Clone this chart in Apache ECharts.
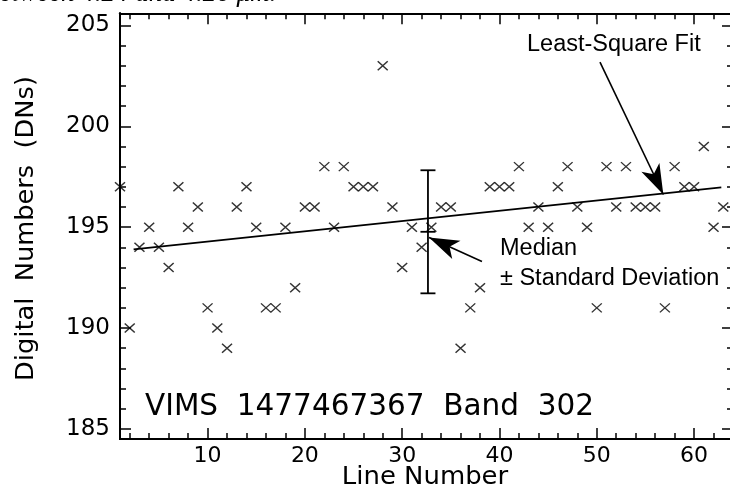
<!DOCTYPE html>
<html>
<head>
<meta charset="utf-8">
<script src="https://cdn.jsdelivr.net/npm/echarts@6/dist/echarts.min.js"></script>
<style>html,body{margin:0;padding:0;background:#fff;overflow:hidden}#c{width:730px;height:491px}</style>
</head>
<body>
<div id="c"></div>
<script>
// ---- data ----
const lineNumbers = [1,2,3,4,5,6,7,8,9,10,11,12,13,14,15,16,17,18,19,20,21,22,23,24,25,26,27,28,29,30,31,32,33,34,35,36,37,38,39,40,41,42,43,44,45,46,47,48,49,50,51,52,53,54,55,56,57,58,59,60,61,62,63];
const digitalNumbers = [197,190,194,195,194,193,197,195,196,191,190,189,196,197,195,191,191,195,192,196,196,198,195,198,197,197,197,203,196,193,195,194,195,196,196,189,191,192,197,197,197,198,195,196,195,197,198,196,195,191,198,196,198,196,196,196,191,198,197,197,199,195,196];
const fitX = [2.4, 62.8];
const fitY = [193.9, 196.97];
const errX = [32.65];
const errMid = [194.77];
const errLow = [191.72];
const errHigh = [197.82];
const xMajorTicks = [10,20,30,40,50,60];
const xMinorTicks = [2,4,6,8,12,14,16,18,22,24,26,28,32,34,36,38,42,44,46,48,52,54,56,58,62,64];
const yMajorTicks = [185,190,195,200,205];
const yMinorTicks = [186,187,188,189,191,192,193,194,196,197,198,199,201,202,203,204];
const fitArrow = [[50.33, 203.18],[56.84, 196.62]];
const medianArrow = [[38.2, 193.3],[32.76, 194.49]];

const X_MIN = 1, X_MAX = 64, Y_MIN = 184.5, Y_MAX = 205.6;
const FONT = 'DejaVu Sans';

const chart = echarts.init(document.getElementById('c'), null, {renderer:'canvas'});

function xAx(pos, ticks, len, label){
  return {
    type:'value', position:pos, min:X_MIN, max:X_MAX, gridIndex:0,
    axisLine:{show:true, onZero:false, lineStyle:{color:'#000', width:2}},
    axisTick:{show:true, inside:true, length:len, customValues:ticks, lineStyle:{color:'#000', width:1.5}},
    axisLabel:{show:label, customValues:ticks, color:'#000', fontFamily:FONT, fontSize:22, margin:6},
    splitLine:{show:false}, minorTick:{show:false}
  };
}
function yAx(pos, ticks, len, label){
  return {
    type:'value', position:pos, min:Y_MIN, max:Y_MAX, gridIndex:0,
    axisLine:{show:true, onZero:false, lineStyle:{color:'#000', width:2}},
    axisTick:{show:true, inside:true, length:len, customValues:ticks, lineStyle:{color:'#000', width:1.5}},
    axisLabel:{show:label, customValues:ticks, color:'#000', fontFamily:FONT, fontSize:23, margin:10},
    splitLine:{show:false}, minorTick:{show:false}
  };
}

const arrowLine = (pts) => ({
  silent:true, animation:false,
  symbol:['none','arrow'], symbolSize:[15,30],
  label:{show:false},
  lineStyle:{color:'#000', width:1.6, type:'solid'},
  itemStyle:{color:'#000'},
  emphasis:{disabled:true},
  data:[[{coord:pts[0]},{coord:pts[1]}]]
});

const option = {
  backgroundColor:'#fff',
  animation:false,
  grid:{left:120, top:13.3, width:613, height:425.7, containLabel:false, outerBoundsMode:'none'},
  xAxis:[
    xAx('bottom', xMajorTicks, 11, true),
    xAx('bottom', xMinorTicks, 6, false),
    xAx('top', xMajorTicks, 11, false),
    xAx('top', xMinorTicks, 6, false)
  ],
  yAxis:[
    yAx('left', yMajorTicks, 11, true),
    yAx('left', yMinorTicks, 6, false),
    yAx('right', yMajorTicks, 11, false),
    yAx('right', yMinorTicks, 6, false)
  ],
  series:[
    {
      type:'scatter', xAxisIndex:0, yAxisIndex:0,
      data: lineNumbers.map((n,i)=>[n, digitalNumbers[i]]),
      symbol:'path://M0,0L10,10M0,10L10,0',
      symbolSize:[10,9],
      itemStyle:{color:'#000', borderColor:'#000', borderWidth:1.4},
      clip:true, silent:true
    },
    {
      type:'line', xAxisIndex:0, yAxisIndex:0,
      data: fitX.map((x,i)=>[x, fitY[i]]),
      symbol:'none', lineStyle:{color:'#000', width:1.8}, silent:true,
      markLine: arrowLine(fitArrow)
    },
    {
      type:'line', xAxisIndex:0, yAxisIndex:0, data:[],
      symbol:'none', silent:true,
      markLine: arrowLine(medianArrow)
    },
    {
      type:'custom', xAxisIndex:0, yAxisIndex:0, silent:true,
      data: errX.map((x,i)=>[x, errMid[i], errLow[i], errHigh[i]]),
      renderItem:(params, api)=>{
        const x = api.value(0);
        const pm = api.coord([x, api.value(1)]);
        const pl = api.coord([x, api.value(2)]);
        const ph = api.coord([x, api.value(3)]);
        const w = 7.5;
        const st = {stroke:'#000', lineWidth:1.8};
        return {type:'group', children:[
          {type:'line', shape:{x1:pl[0], y1:pl[1], x2:ph[0], y2:ph[1]}, style:st},
          {type:'line', shape:{x1:pl[0]-w, y1:pl[1], x2:pl[0]+w, y2:pl[1]}, style:st},
          {type:'line', shape:{x1:ph[0]-w, y1:ph[1], x2:ph[0]+w, y2:ph[1]}, style:st},
          {type:'line', shape:{x1:pm[0]-w, y1:pm[1], x2:pm[0]+w, y2:pm[1]}, style:st}
        ]};
      }
    }
  ],
  graphic:[
    {type:'text', x:-14, y:7, style:{text:'between 4.24 and 4.26 μm.', font:'italic 27px "Liberation Serif"', fill:'#000', textAlign:'left', textVerticalAlign:'bottom'}, silent:true},
    {type:'text', x:527, y:45, style:{text:'Least-Square Fit', font:'23.5px "Liberation Sans"', fill:'#000', textAlign:'left', textVerticalAlign:'middle'}, silent:true},
    {type:'text', x:500, y:249, style:{text:'Median', font:'23.5px "Liberation Sans"', fill:'#000', textAlign:'left', textVerticalAlign:'middle'}, silent:true},
    {type:'text', x:500, y:279, style:{text:'± Standard Deviation', font:'23.5px "Liberation Sans"', fill:'#000', textAlign:'left', textVerticalAlign:'middle'}, silent:true},
    {type:'text', x:145, y:407, style:{text:'VIMS  1477467367  Band  302', font:'29.5px "DejaVu Sans"', fill:'#000', textAlign:'left', textVerticalAlign:'middle'}, silent:true},
    {type:'text', x:425, y:478, scaleX:1.08, style:{text:'Line Number', font:'24px "DejaVu Sans"', fill:'#000', textAlign:'center', textVerticalAlign:'middle'}, silent:true},
    {type:'text', x:27, y:228.5, rotation:Math.PI/2, scaleX:1.07, style:{text:'Digital  Numbers  (DNs)', font:'24px "DejaVu Sans"', fill:'#000', textAlign:'center', textVerticalAlign:'middle'}, silent:true}
  ]
};
chart.setOption(option);
</script>
</body>
</html>
